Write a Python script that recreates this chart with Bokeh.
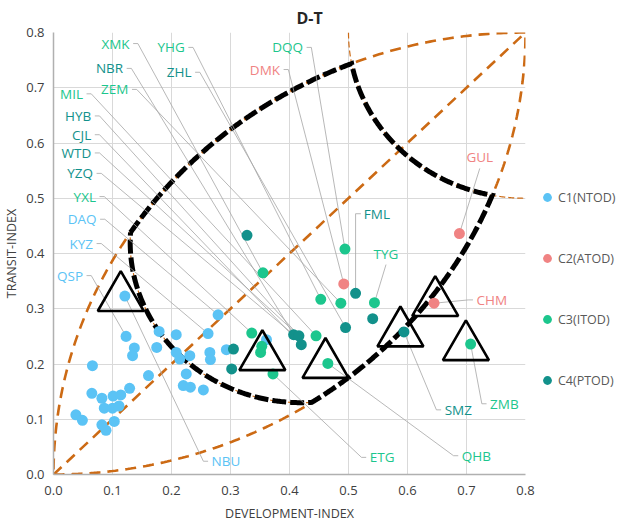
import numpy as np
from bokeh.plotting import figure
from bokeh.models import Range1d, FixedTicker, PrintfTickFormatter, Legend, LegendItem
from bokeh.core.properties import value
from bokeh.embed import file_html
from bokeh.resources import INLINE

# ---------------- data ----------------
c1_x = [0.121, 0.123, 0.137, 0.134, 0.066, 0.175, 0.179, 0.208, 0.161, 0.065, 0.082, 0.101,
        0.114, 0.129, 0.086, 0.100, 0.111, 0.038, 0.049, 0.082, 0.089, 0.103, 0.279, 0.262,
        0.208, 0.214, 0.231, 0.265, 0.266, 0.225, 0.220, 0.232, 0.254, 0.293, 0.361]
c1_y = [0.323, 0.250, 0.229, 0.215, 0.197, 0.230, 0.259, 0.253, 0.179, 0.147, 0.138, 0.142,
        0.144, 0.156, 0.120, 0.120, 0.124, 0.108, 0.098, 0.090, 0.080, 0.096, 0.289, 0.255,
        0.221, 0.209, 0.215, 0.221, 0.208, 0.182, 0.161, 0.158, 0.153, 0.226, 0.244]
c2_x = [0.492, 0.688, 0.645]
c2_y = [0.345, 0.436, 0.310]
c3_x = [0.336, 0.355, 0.353, 0.351, 0.372, 0.445, 0.453, 0.465, 0.494, 0.487, 0.544, 0.707]
c3_y = [0.256, 0.365, 0.232, 0.221, 0.182, 0.251, 0.317, 0.201, 0.408, 0.310, 0.311, 0.236]
c4_x = [0.328, 0.305, 0.302, 0.407, 0.416, 0.420, 0.512, 0.495, 0.541, 0.594]
c4_y = [0.433, 0.227, 0.191, 0.253, 0.251, 0.235, 0.328, 0.266, 0.282, 0.258]

label_names = ["XMK", "YHG", "NBR", "ZHL", "ZEM", "MIL", "HYB", "CJL", "WTD", "YZQ", "YXL",
               "DAQ", "KYZ", "QSP", "DQQ", "DMK", "NBU", "ETG", "QHB", "SMZ", "ZMB", "CHM",
               "GUL", "FML", "TYG"]
label_cluster = [3, 3, 4, 4, 3, 3, 4, 4, 4, 4, 3, 1, 1, 1, 3, 2, 1, 3, 3, 4, 3, 2, 2, 4, 3]
label_target_x = [0.355, 0.453, 0.407, 0.495, 0.487, 0.445, 0.416, 0.420, 0.416, 0.407, 0.336,
                  0.279, 0.262, 0.123, 0.494, 0.492, 0.121, 0.372, 0.465, 0.594, 0.707, 0.645,
                  0.688, 0.512, 0.544]
label_target_y = [0.365, 0.317, 0.253, 0.266, 0.310, 0.251, 0.251, 0.235, 0.251, 0.253, 0.256,
                  0.289, 0.255, 0.250, 0.408, 0.345, 0.323, 0.182, 0.201, 0.258, 0.236, 0.310,
                  0.436, 0.328, 0.311]

tri_x = [0.114, 0.354, 0.461, 0.588, 0.647, 0.699]
tri_y = [0.320, 0.213, 0.199, 0.256, 0.311, 0.231]

ticks = [0.0, 0.1, 0.2, 0.3, 0.4, 0.5, 0.6, 0.7, 0.8]
legend_names = ["C1(NTOD)", "C2(ATOD)", "C3(ITOD)", "C4(PTOD)"]

# ---------------- layout / style ----------------
FONT = "Open Sans"
COLORS = {1: "#5BC3F5", 2: "#F08383", 3: "#1CC68D", 4: "#12918B"}
ORANGE = "#CC6A14"

label_layout = {
    "XMK": (0.129, 0.780, "L"), "YHG": (0.2225, 0.773, "L"), "NBR": (0.118, 0.735, "L"),
    "ZHL": (0.234, 0.728, "L"), "ZEM": (0.127, 0.697, "L"), "MIL": (0.050, 0.689, "L"),
    "HYB": (0.064, 0.649, "L"), "CJL": (0.064, 0.615, "L"), "WTD": (0.064, 0.582, "L"),
    "YZQ": (0.067, 0.545, "L"), "YXL": (0.072, 0.503, "L"), "DAQ": (0.073, 0.462, "L"),
    "KYZ": (0.067, 0.418, "L"), "QSP": (0.050, 0.360, "L"), "DQQ": (0.423, 0.773, "L"),
    "DMK": (0.384, 0.733, "L"), "NBU": (0.268, 0.024, "R"), "ETG": (0.536, 0.031, "R"),
    "QHB": (0.692, 0.034, "R"), "SMZ": (0.663, 0.117, "R"), "ZMB": (0.740, 0.128, "R"),
    "CHM": (0.717, 0.316, "R"), "GUL": (0.7225, 0.574, "B"), "FML": (0.526, 0.472, "F"),
    "TYG": (0.5636, 0.400, "B"),
}

# ---------------- geometry helpers ----------------
def arc(cx, cy, r, a0, a1, n=240):
    t = np.linspace(a0, a1, n)
    return cx + r * np.cos(t), cy + r * np.sin(t)


def cc_int(c1, r1, c2, r2):
    c1 = np.array(c1, float)
    c2 = np.array(c2, float)
    dv = c2 - c1
    d = np.linalg.norm(dv)
    a = (r1 ** 2 - r2 ** 2 + d ** 2) / (2 * d)
    h = np.sqrt(max(r1 ** 2 - a ** 2, 0))
    m = c1 + a * dv / d
    perp = np.array([-dv[1], dv[0]]) / d
    return m + h * perp, m - h * perp


def ang(c, p):
    return np.mod(np.arctan2(p[1] - c[1], p[0] - c[0]), 2 * np.pi)


Uc, Ur = (0.8, 0.0), 0.8
Lc, Lr = (0.0, 0.8), 0.8
Sc, Sr = (0.8, 0.8), 0.3
Ac, Ar = (0.42, 0.42), 0.29

P1 = min(cc_int(Uc, Ur, Ac, Ar), key=lambda q: q[0])
P2 = min(cc_int(Uc, Ur, Sc, Sr), key=lambda q: q[0])
P3 = min(cc_int(Sc, Sr, Lc, Lr), key=lambda q: q[1])
P4 = min(cc_int(Lc, Lr, Ac, Ar), key=lambda q: q[1])

s1 = arc(*Uc, Ur, ang(Uc, P1), ang(Uc, P2))
s2 = arc(*Sc, Sr, ang(Sc, P2), ang(Sc, P3))
s3 = arc(*Lc, Lr, ang(Lc, P3), ang(Lc, P4))
s4 = arc(*Ac, Ar, ang(Ac, P4), ang(Ac, P1))
bx = np.concatenate([s1[0], s2[0], s3[0], s4[0]])
by = np.concatenate([s1[1], s2[1], s3[1], s4[1]])

# ---------------- figure ----------------
p = figure(frame_width=472, frame_height=442, x_range=Range1d(0, 0.8), y_range=Range1d(0, 0.8),
           output_backend="svg", toolbar_location=None, min_border_left=49, min_border_right=90,
           min_border_top=28, min_border_bottom=50, title="D-T")
p.outline_line_color = None
p.background_fill_color = "white"
p.border_fill_color = "white"

p.title.text_font = FONT
p.title.text_font_size = "16px"
p.title.text_font_style = "bold"
p.title.text_color = "#262626"
p.title.align = "left"
p.title.offset = 243
p.title.standoff = 8

for ax in (p.xaxis, p.yaxis):
    ax.ticker = FixedTicker(ticks=ticks, minor_ticks=[])
    ax.formatter = PrintfTickFormatter(format="%.1f")
    ax.major_tick_line_color = None
    ax.minor_tick_line_color = None
    ax.major_tick_out = 0
    ax.major_tick_in = 0
    ax.axis_line_color = "#B0B0B0"
    ax.axis_line_width = 1.5
    ax.major_label_text_font = FONT
    ax.major_label_text_font_size = "13px"
    ax.major_label_text_color = "#404040"
    ax.axis_label_text_font = FONT
    ax.axis_label_text_font_size = "12.5px"
    ax.axis_label_text_font_style = "normal"
    ax.axis_label_text_color = "#404040"
p.xaxis.axis_label = "DEVELOPMENT-INDEX"
p.yaxis.axis_label = "TRANSIT-INDEX"
p.xaxis.major_label_standoff = 11
p.xaxis.axis_label_standoff = 7
p.yaxis.major_label_standoff = 9
p.yaxis.axis_label_standoff = 3
p.grid.grid_line_color = "#D9D9D9"
p.grid.grid_line_width = 1

# orange reference curves
ux, uy = arc(*Uc, Ur, np.pi / 2, np.pi)
lx, ly = arc(*Lc, Lr, -np.pi / 2, 0)
p.line(ux, uy, line_color=ORANGE, line_width=2.6, line_dash="11 7")
p.line(lx, ly, line_color=ORANGE, line_width=2.6, line_dash="11 7")
p.line([ticks[0], ticks[-1]], [ticks[0], ticks[-1]], line_color=ORANGE, line_width=2.6, line_dash="11 7")
sx_, sy_ = arc(*Sc, Sr, np.pi, 1.5 * np.pi)
p.line(sx_, sy_, line_color=ORANGE, line_width=1.2, line_dash="6 3")
p.line(s4[0], s4[1], line_color=ORANGE, line_width=1.2, line_dash="6 3")

# black boundary
p.line(bx, by, line_color="black", line_width=5, line_dash="14 4", line_join="miter")

# leader lines
xs, ys = [], []
for name, tgx, tgy in zip(label_names, label_target_x, label_target_y):
    tx, ty, kind = label_layout[name]
    if kind == "L":
        pts = [(tx + 0.006, ty), (tx + 0.014, ty), (tgx, tgy)]
    elif kind == "R":
        pts = [(tx - 0.006, ty), (tx - 0.014, ty), (tgx, tgy)]
    elif kind == "B":
        pts = [(tx, ty - 0.02), (tgx, tgy)]
    else:
        pts = [(tx - 0.005, ty), (tgx, ty), (tgx, tgy)]
    xs.append([q[0] for q in pts])
    ys.append([q[1] for q in pts])
p.multi_line(xs, ys, line_color="#A6A6A6", line_width=0.8)

# points
rs = []
for xv, yv, k in ((c1_x, c1_y, 1), (c2_x, c2_y, 2), (c3_x, c3_y, 3), (c4_x, c4_y, 4)):
    r = p.scatter(xv, yv, size=11, fill_color=COLORS[k], line_color=None)
    rs.append(r)

# triangles
p.scatter(tri_x, tri_y, marker="triangle", size=46, fill_color=None, line_color="black", line_width=2.6)

# labels
groups = {"L": ("right", []), "R": ("left", []), "B": ("center", []), "F": ("left", [])}
for name, k in zip(label_names, label_cluster):
    tx, ty, kind = label_layout[name]
    groups[kind][1].append((tx, ty, name, COLORS[k]))
for kind, (align, items) in groups.items():
    if not items:
        continue
    p.text(x=[i[0] for i in items], y=[i[1] for i in items], text=[i[2] for i in items],
           text_color=[i[3] for i in items], text_align=align, text_baseline="middle",
           text_font=value(FONT), text_font_size="13.5px")

legend = Legend(items=[LegendItem(label=n, renderers=[r]) for n, r in zip(legend_names, rs)])
legend.location = (11, 83)
legend.padding = 0
legend.margin = 0
legend.spacing = 39
legend.glyph_height = 22
legend.glyph_width = 22
legend.label_height = 22
legend.label_standoff = 0
legend.border_line_color = None
legend.background_fill_alpha = 0
legend.label_text_font = FONT
legend.label_text_font_size = "12.5px"
legend.label_text_color = "#595959"
p.add_layout(legend, "right")

open("out.html", "w").write(file_html(p, INLINE))
